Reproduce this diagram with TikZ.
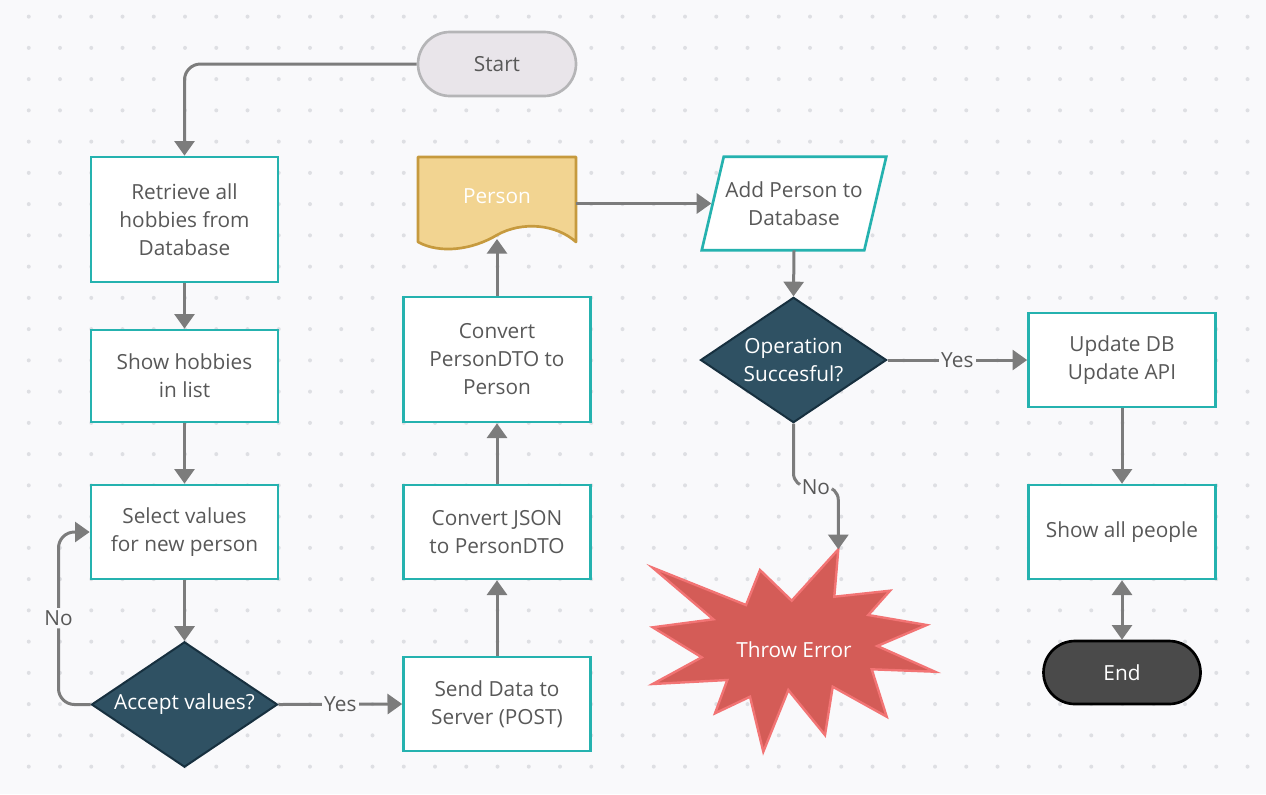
\documentclass[tikz,border=0pt]{standalone}
\usepackage{fontspec}
\setmainfont{Open Sans}
\usetikzlibrary{arrows.meta,shapes.geometric}
\definecolor{bg}{HTML}{F9F9FB}
\definecolor{dotc}{HTML}{DEDFE3}
\definecolor{tealc}{HTML}{25B2AF}
\definecolor{boxtext}{HTML}{585858}
\definecolor{decfill}{HTML}{2F5163}
\definecolor{decline}{HTML}{17303F}
\definecolor{linegray}{HTML}{7C7C7C}
\definecolor{startfill}{HTML}{E9E5EA}
\definecolor{startline}{HTML}{B5B5B7}
\definecolor{docfill}{HTML}{F2D491}
\definecolor{docline}{HTML}{C69A3E}
\definecolor{errfill}{HTML}{D45C57}
\definecolor{errline}{HTML}{F27474}
\definecolor{endfill}{HTML}{4A4A4A}
\begin{document}
\begin{tikzpicture}[x=0.75pt,y=-0.75pt,
  font=\fontsize{15.6}{21}\selectfont,
  proc/.style={draw=tealc, line width=2pt, fill=white, text=boxtext, minimum width=140.25pt, align=center, inner sep=0pt},
  dec/.style={diamond, aspect=1.48, draw=decline, line width=1.5pt, fill=decfill, text=white, minimum width=139.5pt, minimum height=94pt, inner sep=0pt, align=center},
  pill/.style={draw, rounded corners=24pt, line width=2pt, minimum width=118.5pt, minimum height=48pt, inner sep=0pt},
  conn/.style={draw=linegray, line width=2.25pt, -{Triangle[length=11pt,width=15pt]}, color=linegray},
  lab/.style={fill=bg, text=boxtext, inner sep=2pt}]
\useasboundingbox (0,0) rectangle (1266,794);
\fill[bg] (0,0) rectangle (1266,794);
\foreach \i in {0,...,39} \foreach \j in {0,...,24} \fill[dotc] (28.75+31.25*\i, 16.6+31.25*\j) circle (1.5pt);

% nodes
\node[pill, draw=startline, fill=startfill, text=boxtext] (start) at (497,64) {Start};
\node[proc, minimum height=93.75pt] (retr) at (184.5,219.5) {Retrieve all\\hobbies from\\Database};
\node[proc, minimum height=69pt] (hob) at (184.5,376) {Show hobbies\\in list};
\node[proc, minimum height=70.5pt] (sel) at (184.5,532) {Select values\\for new person};
\node[dec] (acc) at (184.5,704.5) {Accept values?};
\node[proc, minimum height=70.5pt] (send) at (497,704) {Send Data to\\Server (POST)};
\node[proc, minimum height=70.5pt] (json) at (497,532) {Convert JSON\\to PersonDTO};
\node[proc, minimum height=93.75pt] (dto) at (497,359.5) {Convert\\PersonDTO to\\Person};

% Person document
\fill[docfill, draw=docline, line width=2pt, line join=round] (418,157) -- (576,157) -- (576,242)
  .. controls (556,224) and (522,221) .. (497,235)
  .. controls (472,250) and (440,254) .. (418,242) -- cycle;
\node[text=white, minimum width=118.5pt, inner sep=0pt] (person) at (497,196) {Person};
\coordinate (pbot) at (497,239);

% Add Person parallelogram
\node[text=boxtext, minimum width=121.5pt, minimum height=69.75pt, inner sep=0pt, align=center] (add) at (794,203.5) {Add Person to\\Database};
\draw[tealc, fill=white, line width=2pt] ([xshift=8.25pt]add.north west) -- ([xshift=8.25pt]add.north east) -- ([xshift=-8.25pt]add.south east) -- ([xshift=-8.25pt]add.south west) -- cycle;
\node[text=boxtext, align=center] at (add.center) {Add Person to\\Database};

\node[dec] (op) at (793.5,360) {Operation\\Succesful?};
\node[proc, minimum height=70.5pt] (upd) at (1122,360) {Update DB\\Update API};
\node[proc, minimum height=70.5pt] (show) at (1122,532) {Show all people};
\node[pill, draw=black, fill=endfill, text=white, minimum width=117.75pt, minimum height=47.25pt, rounded corners=23.6pt] (end) at (1122,672.5) {End};

% Throw Error star
\fill[errfill, draw=errline, line width=1.8pt, line join=miter] (838.3,549.3) -- (834.3,596.7) -- (890,590.7) -- (868.3,615) -- (926.7,625) -- (877.3,646) -- (935,671.7) -- (871.7,669.3) -- (886.7,716.7) -- (832.7,686.7) -- (825,735) -- (788.3,690) -- (763.3,751.7) -- (750,696.7) -- (715,713.3) -- (727.3,680) -- (652.7,684) -- (701.7,657.3) -- (652.7,627.3) -- (713.3,619.3) -- (652.7,567.7) -- (746,605) -- (760,570) -- (791.7,600.7) -- cycle;
\node[text=white] (err) at (794,650) {Throw Error};
\coordinate (errtop) at (838.3,549.3);

% connectors
\draw[conn, rounded corners=12pt] (start.west) -| (retr.north);
\draw[conn] (retr.south) -- (hob.north);
\draw[conn] (hob.south) -- (sel.north);
\draw[conn] (sel.south) -- (acc.north);
\draw[conn, rounded corners=12pt] (acc.west) -- ++(-32,0) |- node[lab, pos=0.25]{No} (sel.west);
\draw[conn] (acc.east) -- node[lab]{Yes} (send.west);
\draw[conn] (send.north) -- (json.south);
\draw[conn] (json.north) -- (dto.south);
\draw[conn] (dto.north) -- (pbot);
\draw[conn] (person.east |- add.west) -- ([xshift=-1pt]add.west);
\draw[conn] (add.south) -- (op.north);
\draw[conn] (op.east) -- node[lab]{Yes} (upd.west);
\draw[conn, rounded corners=10pt] (op.south) -- ++(0,63) -| node[lab, pos=0.25]{No} (errtop);
\draw[conn] (upd.south) -- (show.north);
\draw[conn, {Triangle[length=11pt,width=15pt]}-{Triangle[length=11pt,width=15pt]}] (show.south) -- (end.north);
\end{tikzpicture}
\end{document}
